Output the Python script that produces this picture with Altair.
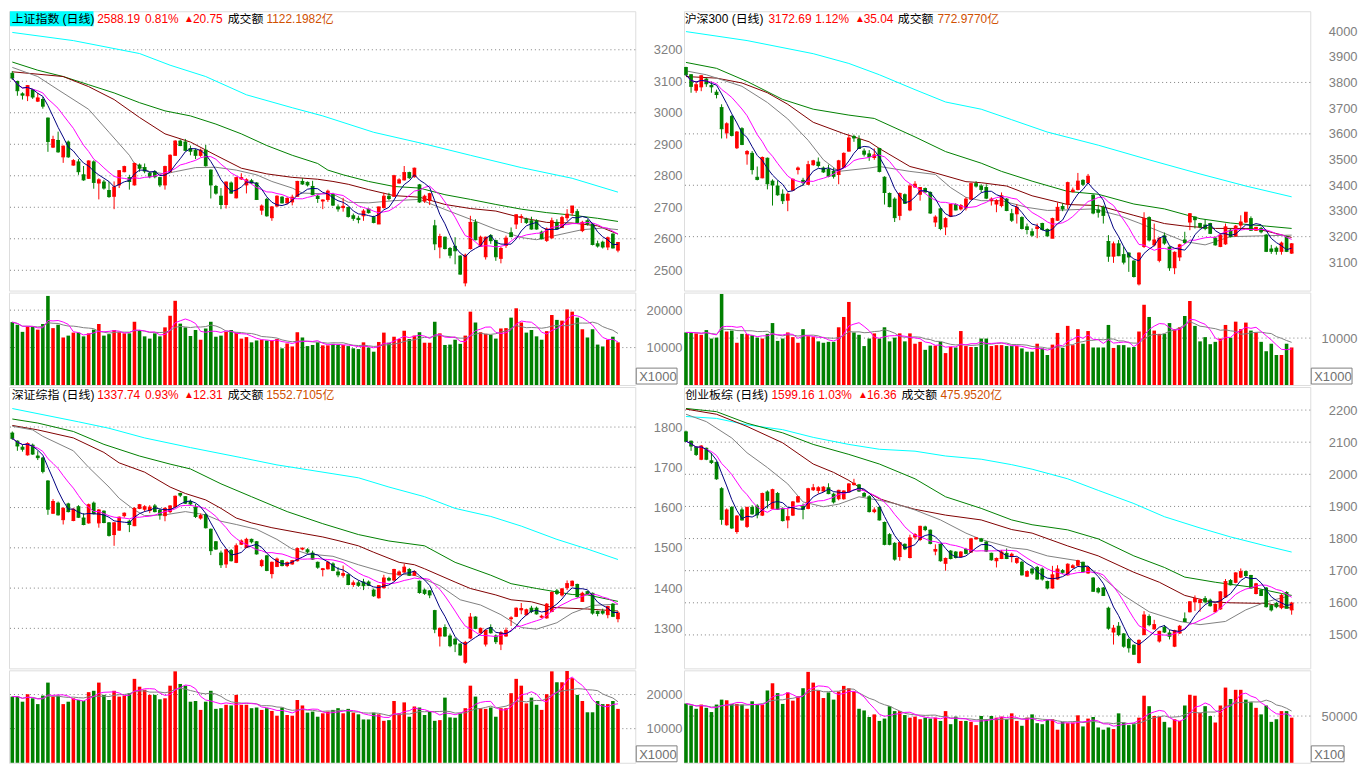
import altair as alt
import pandas as pd

# ---------------- data ----------------
# 上证指数
TL_O = [3125,3099,3060,3054,3073,3037,3042,2983,2891,2912, 2860,2907,2834,2844,2803,2792,2844,2777,2780,2753,
        2735,2771,2813,2794,2771,2834,2826,2808,2813,2794, 2771,2813,2865,2910,2907,2886,2881,2865,2881,2818,
        2766,2735,2709,2777,2730,2790,2771,2784,2777,2691, 2725,2667,2704,2732,2714,2717,2735,2782,2779,2766,
        2735,2720,2725,2740,2701,2699,2699,2673,2665,2673, 2694,2667,2647,2699,2735,2735,2777,2787,2810,2797,
        2771,2720,2722,2641,2574,2605,2569,2576,2545,2460, 2569,2652,2576,2543,2610,2594,2538,2579,2619,2647,
        2669,2662,2657,2657,2621,2595,2603,2652,2636,2667, 2683,2686,2626,2657,2647,2584,2589,2574,2615,2564]
TL_H = [3132,3102,3065,3088,3076,3063,3050,2985,2927,2940, 2896,2912,2853,2853,2831,2849,2849,2792,2787,2782,
        2782,2818,2832,2803,2842,2839,2839,2813,2818,2797, 2832,2868,2913,2915,2917,2896,2886,2886,2898,2820,
        2771,2761,2782,2782,2797,2808,2792,2790,2780,2709, 2730,2704,2738,2735,2732,2740,2784,2792,2782,2784,
        2740,2725,2756,2746,2709,2730,2702,2680,2673,2694, 2696,2673,2702,2746,2746,2803,2792,2831,2813,2826,
        2774,2740,2746,2660,2616,2607,2574,2605,2548,2553, 2673,2662,2610,2607,2615,2597,2574,2610,2636,2678,
        2678,2667,2670,2662,2626,2636,2667,2662,2673,2694, 2704,2694,2657,2662,2649,2594,2594,2607,2617,2590]
TL_L = [3104,3054,3042,3037,3044,3034,3013,2876,2888,2873, 2841,2857,2832,2803,2784,2790,2759,2725,2756,2730,
        2694,2761,2811,2756,2769,2813,2808,2792,2792,2764, 2756,2811,2864,2894,2878,2865,2853,2860,2829,2728,
        2740,2694,2696,2743,2728,2787,2744,2774,2723,2676, 2670,2657,2701,2712,2709,2706,2733,2771,2766,2738,
        2714,2694,2717,2704,2686,2686,2667,2657,2649,2657, 2680,2649,2647,2696,2722,2733,2775,2785,2790,2794,
        2714,2714,2707,2564,2538,2566,2538,2519,2486,2449, 2566,2595,2574,2534,2584,2530,2522,2571,2605,2631,
        2650,2647,2629,2629,2598,2590,2600,2628,2634,2657, 2673,2649,2621,2642,2579,2572,2569,2564,2569,2557]
TL_C = [3110,3070,3056,3086,3050,3047,3021,2909,2915,2876, 2894,2860,2848,2813,2787,2847,2779,2787,2761,2734,
        2764,2816,2829,2782,2839,2824,2815,2797,2797,2771, 2829,2865,2910,2896,2881,2878,2865,2881,2832,2771,
        2745,2709,2780,2745,2794,2794,2787,2777,2725,2704, 2673,2701,2735,2714,2728,2732,2782,2774,2771,2740,
        2728,2723,2751,2707,2695,2703,2671,2665,2661,2688, 2683,2652,2701,2735,2728,2800,2787,2810,2794,2824,
        2717,2735,2743,2584,2607,2569,2548,2562,2488,2548, 2652,2597,2605,2605,2594,2543,2569,2602,2607,2676,
        2670,2652,2631,2631,2600,2631,2657,2631,2667,2678, 2704,2652,2652,2647,2582,2577,2574,2603,2571,2588]
TL_V = [16800,16100,14200,15700,15500,14800,16300,23800,15200,16100, 12700,13200,14000,14000,13000,13800,14800,16300,13200,13600,
        14700,14100,13800,13800,16900,14700,13000,12400,13800,13000, 15400,18500,22500,16400,15400,13100,14700,12100,15100,16900,
        12900,13200,14200,14700,14000,12400,12800,11400,11900,12100, 11900,11900,12300,9800,11100,10300,14100,12700,10400,10700,
        11400,10600,10600,11000,10700,10700,10400,9800,9600,11400, 10000,8900,11500,14000,11300,12900,12300,14500,12300,13200,
        14100,11300,11300,16900,13800,10700,10800,12100,11000,13200, 19600,16700,14100,13700,13400,12400,15100,15200,18000,20500,
        16700,14000,14700,13000,12100,14400,18700,17400,17200,20200, 19600,18000,14900,12700,14900,10800,10300,12100,12900,11400]
TL_MA20_I = [0,5,9,15,19,23,24,27,30,32,36,40,44,48,51,55,57,63,66,70,75,80,85,90,95,100,103,108,112,116,119]
TL_MA20_V = [3144,3115,3073,3011,2938,2865,2839,2813,2806,2813,2826,2827,2818,2803,2782,2761,2745,2742,2716,2714,2721,2725,2693,2662,2630,2604,2597,2615,2629,2634,2629]
TL_MA30_I = [0,10,15,20,25,30,35,40,45,50,55,60,63,66,70,75,80,85,90,95,100,105,110,115,119]
TL_MA30_V = [3130,3115,3083,3042,2985,2933,2907,2865,2824,2806,2795,2789,2782,2773,2756,2737,2732,2709,2696,2688,2667,2652,2650,2641,2615]
TL_MA60_I = [0,5,10,15,20,25,30,35,40,45,50,55,60,62,65,70,75,80,85,90,95,100,105,110,115,119]
TL_MA60_V = [3161,3135,3115,3089,3063,3032,3006,2990,2964,2933,2896,2865,2839,2818,2803,2782,2766,2761,2740,2725,2709,2694,2683,2675,2665,2655]
TL_MA120_I = [0,12,25,31,38,46,55,61,71,81,90,100,110,119]
TL_MA120_V = [3255,3229,3188,3151,3115,3057,3016,2990,2938,2901,2865,2826,2792,2748]

# 沪深300
TR_O = [3858,3830,3770,3783,3813,3788,3762,3702,3604,3668, 3546,3620,3522,3524,3431,3429,3505,3416,3397,3365,
        3342,3381,3461,3419,3404,3480,3490,3467,3461,3454, 3442,3470,3533,3590,3578,3533,3522,3508,3543,3431,
        3368,3346,3283,3363,3304,3393,3365,3387,3372,3257, 3308,3238,3279,3325,3308,3312,3346,3406,3397,3391,
        3340,3327,3321,3346,3289,3289,3274,3238,3219,3232, 3251,3228,3194,3264,3317,3327,3375,3384,3419,3410,
        3361,3304,3314,3181,3124,3172,3130,3136,3105,3016, 3162,3274,3168,3108,3203,3159,3079,3121,3187,3257,
        3276,3251,3245,3251,3194,3162,3172,3225,3203,3245, 3257,3270,3225,3232,3206,3152,3155,3143,3200,3136]
TR_H = [3861,3832,3804,3828,3817,3804,3772,3715,3645,3673, 3611,3626,3537,3533,3473,3512,3508,3423,3419,3384,
        3372,3427,3473,3429,3495,3499,3508,3473,3480,3467, 3499,3528,3597,3597,3594,3543,3537,3543,3546,3435,
        3372,3353,3372,3368,3404,3416,3393,3391,3376,3283, 3314,3276,3327,3330,3327,3353,3410,3416,3404,3404,
        3353,3346,3372,3350,3308,3327,3279,3251,3232,3251, 3254,3232,3274,3333,3330,3414,3391,3448,3423,3444,
        3365,3324,3321,3206,3181,3187,3162,3139,3108,3139, 3295,3279,3251,3197,3216,3162,3143,3172,3219,3292,
        3279,3254,3268,3254,3200,3213,3251,3232,3245,3283, 3295,3279,3238,3238,3210,3168,3162,3181,3203,3175]
TR_L = [3826,3760,3760,3766,3783,3760,3738,3582,3582,3590, 3541,3556,3480,3442,3419,3427,3384,3321,3359,3327,
        3299,3378,3442,3397,3401,3476,3469,3448,3431,3426, 3404,3467,3531,3569,3541,3512,3495,3499,3450,3325,
        3314,3257,3264,3327,3299,3391,3340,3372,3289,3238, 3225,3206,3276,3302,3302,3302,3342,3391,3372,3346,
        3321,3295,3314,3299,3257,3251,3228,3209,3200,3194, 3225,3200,3194,3261,3299,3308,3372,3380,3397,3406,
        3287,3274,3251,3102,3098,3124,3092,3063,3041,3010, 3156,3181,3162,3100,3168,3067,3054,3105,3172,3225,
        3232,3232,3225,3210,3165,3159,3168,3197,3200,3232, 3253,3222,3222,3213,3140,3133,3130,3130,3140,3133]
TR_C = [3830,3785,3791,3826,3795,3783,3753,3620,3639,3594, 3607,3559,3531,3461,3423,3508,3406,3401,3363,3340,
        3365,3423,3467,3410,3480,3495,3477,3452,3435,3435, 3495,3524,3584,3584,3543,3521,3512,3518,3454,3372,
        3317,3274,3368,3330,3397,3404,3391,3374,3292,3276, 3232,3270,3325,3304,3321,3346,3406,3397,3384,3350,
        3346,3340,3359,3302,3264,3314,3232,3228,3206,3238, 3228,3203,3270,3314,3308,3410,3381,3416,3404,3435,
        3292,3295,3283,3124,3172,3126,3101,3121,3045,3136, 3270,3187,3187,3194,3175,3079,3139,3168,3177,3289,
        3266,3238,3232,3213,3168,3206,3238,3200,3241,3257, 3295,3225,3236,3219,3143,3143,3143,3175,3143,3172]
TR_V = [11200,11200,11000,10700,11700,9900,10100,19400,11400,11600, 9000,10900,10900,10600,10100,9900,10900,13200,9400,9900,
        11200,10200,9000,11900,10400,10200,9300,9000,9200,9200, 12300,14500,17700,11200,10700,8300,9900,11000,9900,12300,
        9300,10100,11000,9300,11000,8800,9200,7500,8400,8400, 9200,6800,8100,8000,11500,8300,8100,8100,9900,9900,
        8300,8500,8500,8300,8300,8300,7800,7100,7100,8800, 7800,6400,8600,11100,7900,12600,8500,11900,8800,11500,
        8000,8000,8000,12800,7900,8500,8500,8000,8100,11400, 17100,14500,11600,10900,10900,13200,11900,12300,14700,17900,
        12600,9300,10200,8700,9200,9900,12800,10100,13500,11900, 13300,11600,11200,9200,7200,8800,6400,6400,8800,8000]
TR_MA20_I = [0,4,11,16,20,24,27,30,36,38,44,49,52,55,58,62,67,71,75,80,85,89,94,98,102,107,113,119]
TR_MA20_V = [3845,3830,3785,3722,3658,3575,3499,3454,3467,3473,3454,3442,3391,3353,3340,3340,3314,3302,3304,3308,3283,3253,3213,3181,3168,3200,3203,3206]
TR_MA30_I = [0,6,11,16,20,25,31,36,38,44,49,55,58,63,68,75,81,88,94,98,104,111,114,119]
TR_MA30_V = [3823,3817,3798,3760,3715,3645,3601,3569,3543,3473,3448,3414,3410,3397,3359,3325,3321,3283,3251,3241,3232,3232,3222,3197]
TR_MA60_I = [0,6,12,19,25,32,37,45,51,58,62,68,75,81,88,94,101,107,114,119]
TR_MA60_V = [3878,3855,3804,3734,3696,3673,3660,3588,3531,3486,3454,3416,3376,3365,3327,3308,3270,3253,3241,3232]
TR_MA120_I = [0,12,25,32,38,45,51,58,64,71,81,91,101,110,119]
TR_MA120_V = [3998,3963,3912,3874,3830,3772,3724,3696,3655,3607,3556,3499,3444,3397,3355]

# 深证综指
BL_O = [1785,1765,1750,1731,1755,1728,1723,1666,1586,1611, 1570,1609,1568,1602,1574,1562,1611,1562,1591,1562,
        1533,1544,1580,1566,1555,1598,1596,1593,1604,1593, 1580,1590,1602,1635,1627,1615,1601,1574,1582,1546,
        1515,1487,1460,1493,1464,1509,1501,1521,1515,1456, 1480,1436,1454,1468,1456,1460,1468,1497,1495,1487,
        1464,1446,1448,1460,1440,1432,1433,1409,1413,1415, 1415,1395,1376,1401,1424,1420,1433,1440,1446,1432,
        1417,1395,1393,1344,1281,1302,1281,1273,1261,1216, 1276,1328,1289,1261,1302,1281,1261,1281,1324,1330,
        1346,1334,1350,1350,1328,1326,1342,1393,1383,1401, 1406,1409,1367,1391,1387,1342,1342,1334,1360,1324]
BL_H = [1789,1767,1756,1762,1759,1740,1726,1668,1621,1615, 1601,1612,1598,1606,1586,1610,1615,1596,1593,1564,
        1564,1578,1588,1570,1601,1609,1606,1606,1609,1598, 1601,1606,1630,1637,1628,1620,1609,1585,1586,1548,
        1517,1493,1497,1497,1511,1521,1525,1523,1517,1472, 1482,1466,1476,1470,1466,1470,1501,1501,1499,1493,
        1466,1450,1468,1464,1452,1456,1436,1419,1419,1423, 1419,1399,1407,1433,1428,1448,1444,1460,1450,1444,
        1419,1399,1395,1346,1302,1310,1287,1277,1263,1269, 1338,1330,1302,1297,1310,1285,1293,1302,1330,1352,
        1363,1349,1356,1354,1334,1363,1392,1398,1400,1419, 1419,1411,1391,1393,1389,1344,1349,1356,1363,1343]
BL_L = [1768,1741,1739,1729,1731,1718,1685,1582,1584,1580, 1558,1588,1566,1574,1556,1560,1583,1550,1561,1528,
        1505,1542,1575,1539,1554,1596,1590,1586,1588,1570, 1566,1586,1600,1626,1609,1605,1574,1570,1548,1482,
        1495,1450,1450,1466,1462,1507,1499,1511,1483,1452, 1442,1424,1452,1454,1452,1458,1466,1494,1486,1470,
        1448,1429,1446,1442,1427,1426,1407,1403,1403,1395, 1405,1378,1374,1399,1417,1417,1431,1438,1430,1430,
        1386,1383,1375,1288,1255,1279,1253,1241,1232,1212, 1273,1298,1287,1255,1287,1261,1246,1279,1306,1328,
        1335,1332,1338,1334,1325,1324,1340,1383,1379,1395, 1404,1376,1366,1383,1334,1330,1334,1325,1328,1315]
BL_C = [1772,1753,1745,1759,1733,1724,1690,1596,1615,1582, 1598,1590,1596,1576,1558,1607,1585,1594,1563,1531,
        1562,1576,1586,1558,1598,1607,1602,1601,1590,1582, 1598,1604,1628,1631,1611,1609,1578,1580,1550,1493,
        1497,1458,1495,1468,1505,1517,1521,1515,1485,1468, 1444,1464,1472,1456,1463,1468,1498,1499,1490,1472,
        1452,1448,1464,1444,1433,1436,1409,1413,1407,1406, 1407,1381,1406,1425,1420,1446,1440,1452,1432,1441,
        1389,1387,1383,1298,1300,1281,1257,1261,1234,1265, 1328,1300,1300,1295,1289,1267,1289,1295,1326,1350,
        1349,1346,1342,1336,1330,1360,1389,1387,1398,1411, 1417,1379,1387,1385,1338,1337,1338,1354,1330,1338]
BL_V = [19400,19400,17900,20100,18900,17200,19700,23500,19400,19700, 17200,17900,18900,18400,18100,20700,21100,23500,19900,18400,
        21100,19400,19700,20400,24600,22300,21400,19900,19900,18600, 18900,22600,26800,23100,22600,17900,18100,15500,17900,21100,
        15800,16000,17000,16800,19900,17000,17000,16000,16200,15500, 16000,15200,13800,16200,14000,13800,18400,16800,14700,15000,
        13500,14500,15000,15500,16000,14500,15800,14700,14200,12700, 12700,14700,14200,12300,12500,18100,14500,17700,13500,16500,
        16200,14000,15000,12300,12500,19100,13300,13200,14500,16000, 22600,19400,16000,15800,16200,13500,16000,16000,20400,24600,
        22600,17400,19100,17000,15500,20100,26800,23600,23600,26900, 24800,19900,18100,14800,14800,18100,17200,17200,18100,15800]
BL_MA20_I = [0,4,6,12,15,19,21,24,26,30,34,38,41,44,48,52,55,58,63,68,74,79,84,88,92,96,100,103,107,110,114,119]
BL_MA20_V = [1802,1793,1777,1741,1700,1651,1623,1594,1580,1582,1590,1582,1566,1558,1546,1521,1497,1485,1479,1458,1436,1432,1406,1371,1358,1334,1302,1298,1314,1338,1357,1360]
BL_MA30_I = [0,5,12,18,21,26,31,34,38,41,44,47,51,57,61,64,68,71,76,79,81,87,90,95,98,102,106,113,119]
BL_MA30_V = [1804,1793,1773,1737,1711,1688,1651,1635,1619,1598,1574,1562,1550,1536,1527,1518,1505,1489,1464,1458,1448,1415,1399,1383,1371,1366,1352,1348,1343]
BL_MA60_I = [0,5,12,18,25,31,35,41,47,54,61,68,74,81,87,94,98,103,110,113,119]
BL_MA60_V = [1820,1810,1789,1757,1728,1708,1696,1659,1627,1590,1560,1533,1517,1505,1464,1432,1411,1399,1384,1383,1367]
BL_MA120_I = [0,13,19,26,35,45,52,58,63,68,74,81,87,94,100,107,113,119]
BL_MA120_V = [1846,1813,1797,1773,1749,1724,1706,1694,1684,1674,1651,1627,1598,1578,1554,1521,1497,1471]

# 创业板综
BR_O = [2132,2103,2085,2047,2081,2042,2037,1955,1843,1897, 1822,1889,1838,1897,1901,1873,1945,1894,1940,1894,
        1858,1873,1914,1901,1894,1952,1950,1948,1958,1938, 1924,1924,1945,1968,1967,1940,1930,1884,1897,1850,
        1812,1785,1744,1782,1741,1805,1797,1836,1826,1761, 1782,1723,1761,1758,1744,1766,1758,1799,1799,1789,
        1754,1731,1738,1754,1744,1726,1726,1683,1705,1710, 1705,1666,1646,1674,1700,1687,1710,1717,1726,1693,
        1677,1644,1646,1583,1509,1527,1503,1486,1468,1414, 1501,1557,1519,1481,1523,1506,1465,1506,1550,1572,
        1603,1601,1613,1608,1572,1581,1618,1669,1664,1680, 1697,1685,1629,1639,1646,1591,1598,1585,1632,1578]
BR_H = [2136,2105,2088,2091,2083,2067,2040,1960,1894,1901, 1873,1897,1899,1904,1907,1943,1950,1955,1945,1897,
        1894,1917,1932,1909,1958,1970,1963,1963,1972,1943, 1952,1950,1972,1986,1970,1945,1935,1897,1901,1853,
        1817,1789,1789,1785,1812,1817,1840,1840,1828,1782, 1785,1741,1764,1761,1761,1771,1802,1805,1802,1792,
        1756,1741,1764,1769,1756,1741,1731,1700,1710,1715, 1710,1669,1715,1717,1705,1723,1720,1734,1728,1713,
        1680,1649,1649,1588,1531,1540,1506,1491,1470,1486, 1574,1564,1547,1513,1531,1516,1516,1531,1570,1605,
        1623,1613,1621,1613,1598,1636,1674,1674,1695,1707, 1700,1687,1662,1642,1649,1595,1603,1628,1636,1603]
BR_L = [2101,2073,2057,2044,2044,2032,1983,1843,1840,1830, 1815,1856,1833,1874,1863,1870,1894,1891,1889,1853,
        1832,1870,1912,1860,1891,1948,1940,1945,1938,1909, 1919,1921,1942,1965,1945,1930,1881,1879,1856,1779,
        1779,1731,1731,1764,1738,1797,1792,1823,1782,1748, 1728,1700,1735,1738,1741,1751,1756,1797,1789,1758,
        1731,1710,1736,1736,1726,1721,1685,1680,1687,1672, 1669,1642,1644,1672,1690,1685,1707,1713,1695,1690,
        1634,1629,1621,1516,1470,1496,1460,1445,1438,1411, 1499,1527,1516,1476,1506,1486,1462,1503,1540,1570,
        1575,1572,1598,1588,1570,1578,1615,1654,1661,1677, 1680,1644,1626,1621,1585,1573,1583,1580,1583,1563]
BR_C = [2103,2088,2062,2088,2047,2037,1986,1860,1889,1833, 1870,1858,1897,1877,1874,1940,1919,1952,1891,1856,
        1868,1914,1930,1891,1955,1958,1958,1960,1940,1914, 1950,1948,1970,1972,1948,1932,1884,1889,1858,1782,
        1782,1736,1787,1768,1802,1812,1838,1828,1785,1766, 1731,1738,1738,1741,1758,1754,1799,1802,1792,1761,
        1734,1738,1758,1738,1751,1738,1687,1697,1693,1674, 1674,1646,1687,1705,1695,1720,1715,1731,1697,1710,
        1636,1634,1623,1521,1521,1501,1465,1460,1440,1483, 1562,1532,1532,1511,1509,1496,1513,1527,1542,1603,
        1613,1608,1603,1591,1595,1634,1666,1656,1693,1697, 1685,1646,1659,1623,1588,1578,1588,1623,1583,1599]
BR_V = [63400,61300,57800,62300,58800,54300,62300,67600,66900,63000, 63000,62300,57800,65800,62300,62300,77400,85100,74600,63000,
        75300,66500,71100,79800,97300,85800,77400,69300,75300,67600, 76300,82300,79800,76300,57800,56000,49000,51800,44800,47300,
        60600,55300,55300,51100,48300,49400,46600,48300,47300,48300, 44800,55300,41300,49400,44800,44800,43800,40300,50100,46600,
        50100,48300,49400,46600,52900,44800,39600,48300,51800,42400, 41300,45900,46600,35400,43800,42400,43100,50800,38900,47300,
        49000,37800,35400,37800,36100,52900,43100,40300,41300,48300, 71800,60600,50100,49400,43800,37800,46600,44800,61300,72800,
        71800,53600,60600,50100,43100,61300,80500,68300,78100,78100, 67600,64800,58800,51800,61300,43800,46600,55300,55300,48300]
BR_MA20_I = [0,4,9,12,16,20,23,27,30,34,38,41,45,50,55,58,64,67,71,77,81,86,91,97,101,106,110,114,119]
BR_MA20_V = [2187,2164,2113,2067,2021,1970,1914,1899,1907,1930,1919,1909,1889,1858,1817,1797,1771,1766,1746,1731,1690,1623,1572,1542,1532,1542,1578,1603,1623]
BR_MA30_I = [0,6,12,19,25,29,32,35,38,42,45,51,58,64,68,75,81,88,93,98,103,107,114,119]
BR_MA30_V = [2203,2187,2149,2098,2032,2006,1981,1950,1924,1904,1891,1873,1858,1828,1817,1777,1746,1695,1664,1623,1603,1600,1598,1583]
BR_MA60_I = [0,6,12,19,25,32,38,45,51,58,64,68,75,81,88,94,98,104,111,117,119]
BR_MA60_V = [2205,2195,2159,2129,2093,2062,2032,1986,1930,1894,1858,1843,1827,1799,1746,1710,1680,1664,1649,1629,1623]
BR_MA120_I = [0,6,12,19,25,32,38,45,51,58,64,68,75,81,88,94,101,107,114,119]
BR_MA120_V = [2180,2174,2154,2139,2115,2093,2078,2072,2057,2047,2030,2016,1986,1950,1909,1868,1833,1805,1777,1758]

# axis labels / gridlines
TL_LABELS = [2500, 2600, 2700, 2800, 2900, 3000, 3100, 3200]
TR_LABELS = [3100, 3200, 3300, 3400, 3500, 3600, 3700, 3800, 3900, 4000]
TR_GRID = [3200, 3400, 3600, 3800]
BL_LABELS = [1300, 1400, 1500, 1600, 1700, 1800]
BR_LABELS = [1500, 1600, 1700, 1800, 1900, 2000, 2100, 2200]

# header texts
TL_HEAD = ["上证指数 (日线)", "2588.19", "0.81%", "▲", "20.75", "成交额", "1122.1982亿"]
TR_HEAD = ["沪深300 (日线)", "3172.69", "1.12%", "▲", "35.04", "成交额", "772.9770亿"]
BL_HEAD = ["深证综指 (日线)", "1337.74", "0.93%", "▲", "12.31", "成交额", "1552.7105亿"]
BR_HEAD = ["创业板综 (日线)", "1599.16", "1.03%", "▲", "16.36", "成交额", "475.9520亿"]

# ---------------- styling / layout ----------------
FONT = 'Liberation Sans, "Noto Sans CJK SC", sans-serif'
UP, DOWN = "#FF0000", "#008000"
GRIDC = "#808080"
NAVY, MAG, GRAY, DRED, GRN, CYAN = "#000080", "#FF00FF", "#808080", "#800000", "#008000", "#00FFFF"
HEAD_COLORS = ["#000000", "#FF0000", "#FF0000", "#FF0000", "#FF0000", "#000000", "#D05000"]
W = 630
HP_TOP, HV_TOP, HP_BOT, HV_BOT = 281, 93, 283, 93
XDOM_L = [-0.65, 122.4]
XDOM_R = [-0.39, 122.66]
BODY_HALF = 0.36
VOL_HALF = 0.35


def dirs(O, C):
    return ["up" if c >= o else "down" for o, c in zip(O, C)]


def header_layers(texts, xs, highlight):
    layers = []
    one = pd.DataFrame({"a": [0]})
    if highlight:
        layers.append(alt.Chart(one).mark_rect(color="#00FFFF").encode(
            x=alt.value(1), x2=alt.value(85), y=alt.value(0), y2=alt.value(15)))
    for t, x, c in zip(texts, xs, HEAD_COLORS):
        size = 10 if t == "▲" else 12
        layers.append(alt.Chart(one).mark_text(
            align="left", baseline="middle", font=FONT, fontSize=size, color=c).encode(
            x=alt.value(x), y=alt.value(8), text=alt.value(t)))
    return layers


def make_axis(labels):
    return alt.Axis(orient="right", values=labels, format="d", ticks=False, tickSize=0,
                    domain=False, grid=False, labelPadding=47, labelAlign="right",
                    labelColor="#808080", labelFont="Liberation Sans", labelFontSize=13,
                    labelOverlap=False, labelFlush=False, title=None)


def price_panel(O, H, L, C, mas, ydom, labels, grids, head, head_x, xdom, h, highlight=False):
    n = len(C)
    df = pd.DataFrame({"i": list(range(n)), "open": O, "high": H, "low": L, "close": C,
                       "dir": dirs(O, C)})
    df["xa"] = df["i"] - BODY_HALF
    df["xb"] = df["i"] + BODY_HALF
    df["ma5"] = df["close"].rolling(5, min_periods=1).mean()
    df["ma10"] = df["close"].rolling(10, min_periods=1).mean()
    xs = alt.Scale(domain=xdom, nice=False, zero=False)
    ys = alt.Scale(domain=ydom, nice=False, zero=False)
    yax = make_axis(labels)

    def X(f):
        return alt.X(f, type="quantitative", scale=xs, axis=None)

    def Y(f):
        return alt.Y(f, type="quantitative", scale=ys, axis=yax)

    col = alt.Color("dir:N", scale=alt.Scale(domain=["up", "down"], range=[UP, DOWN]), legend=None)
    base = alt.Chart(df)
    layers = [
        alt.Chart(pd.DataFrame({"g": grids})).mark_rule(color=GRIDC, strokeDash=[1, 3], strokeWidth=1)
        .encode(y=Y("g")),
    ]
    for (I, V, c) in mas:
        layers.append(alt.Chart(pd.DataFrame({"i": I, "v": V})).mark_line(color=c, strokeWidth=1)
                      .encode(x=X("i"), y=Y("v")))
    layers += [
        base.mark_rule(strokeWidth=1).encode(x=X("i"), y=Y("low"), y2="high:Q", color=col),
        base.mark_rect().encode(x=X("xa"), x2="xb:Q", y=Y("open"), y2="close:Q", color=col),
        base.mark_rule(strokeWidth=1).encode(x=X("xa"), x2="xb:Q", y=Y("close"), color=col),
        base.mark_rule(strokeWidth=1).encode(x=X("xa"), x2="xb:Q", y=Y("open"), color=col),
        base.mark_line(color=MAG, strokeWidth=1).encode(x=X("i"), y=Y("ma10")),
        base.mark_line(color=NAVY, strokeWidth=1).encode(x=X("i"), y=Y("ma5")),
    ]
    layers += header_layers(head, head_x, highlight)
    return alt.layer(*layers).properties(width=W, height=h)


def vol_panel(V, O, C, ydom, labels, grids, unit, unit_w, xdom, h):
    n = len(V)
    df = pd.DataFrame({"i": list(range(n)), "vol": V, "dir": dirs(O, C), "zero": [0] * n})
    df["xa"] = df["i"] - VOL_HALF
    df["xb"] = df["i"] + VOL_HALF
    df["m5"] = df["vol"].rolling(5, min_periods=1).mean()
    df["m10"] = df["vol"].rolling(10, min_periods=1).mean()
    xs = alt.Scale(domain=xdom, nice=False, zero=False)
    ys = alt.Scale(domain=ydom, nice=False, zero=False)
    yax = make_axis(labels)

    def X(f):
        return alt.X(f, type="quantitative", scale=xs, axis=None)

    def Y(f):
        return alt.Y(f, type="quantitative", scale=ys, axis=yax)

    col = alt.Color("dir:N", scale=alt.Scale(domain=["up", "down"], range=[UP, DOWN]), legend=None)
    base = alt.Chart(df)
    one = pd.DataFrame({"a": [0]})
    layers = [
        alt.Chart(pd.DataFrame({"g": grids})).mark_rule(color=GRIDC, strokeDash=[1, 3], strokeWidth=1)
        .encode(y=Y("g")),
        base.mark_rect().encode(x=X("xa"), x2="xb:Q", y=Y("vol"), y2="zero:Q", color=col),
        base.mark_line(color=GRAY, strokeWidth=1).encode(x=X("i"), y=Y("m10")),
        base.mark_line(color=MAG, strokeWidth=1).encode(x=X("i"), y=Y("m5")),
        alt.Chart(one).mark_rect(fill="white", stroke="#808080", strokeWidth=1).encode(
            x=alt.value(W + 1), x2=alt.value(W + 1 + unit_w), y=alt.value(h - 17), y2=alt.value(h - 1)),
        alt.Chart(one).mark_text(align="left", baseline="middle", font="Liberation Sans",
                                 fontSize=13, color="#707070").encode(
            x=alt.value(W + 4), y=alt.value(h - 8), text=alt.value(unit)),
    ]
    return alt.layer(*layers).properties(width=W, height=h)


HX_TL = [2.7, 88.7, 136.7, 176, 185, 220, 259]
HX_TR = [0.7, 85, 132, 172, 180.7, 215, 255]
HX_BL = [2.7, 88.7, 136.7, 176, 185, 220, 258.7]
HX_BR = [1.3, 88, 135, 175, 184, 218.7, 258]

tl_p = price_panel(TL_O, TL_H, TL_L, TL_C,
                   [(TL_MA120_I, TL_MA120_V, CYAN), (TL_MA60_I, TL_MA60_V, GRN),
                    (TL_MA30_I, TL_MA30_V, DRED), (TL_MA20_I, TL_MA20_V, GRAY)],
                   [2435.6, 3322.3], TL_LABELS, TL_LABELS, TL_HEAD, HX_TL, XDOM_L, HP_TOP, True)
tr_p = price_panel(TR_O, TR_H, TR_L, TR_C,
                   [(TR_MA120_I, TR_MA120_V, CYAN), (TR_MA60_I, TR_MA60_V, GRN),
                    (TR_MA30_I, TR_MA30_V, DRED), (TR_MA20_I, TR_MA20_V, GRAY)],
                   [2990.2, 4077.2], TR_LABELS, TR_GRID, TR_HEAD, HX_TR, XDOM_R, HP_TOP)
bl_p = price_panel(BL_O, BL_H, BL_L, BL_C,
                   [(BL_MA120_I, BL_MA120_V, CYAN), (BL_MA60_I, BL_MA60_V, GRN),
                    (BL_MA30_I, BL_MA30_V, DRED), (BL_MA20_I, BL_MA20_V, GRAY)],
                   [1200.7, 1899.5], BL_LABELS, BL_LABELS, BL_HEAD, HX_BL, XDOM_L, HP_BOT)
br_p = price_panel(BR_O, BR_H, BR_L, BR_C,
                   [(BR_MA120_I, BR_MA120_V, CYAN), (BR_MA60_I, BR_MA60_V, GRN),
                    (BR_MA30_I, BR_MA30_V, DRED), (BR_MA20_I, BR_MA20_V, GRAY)],
                   [1396.0, 2271.8], BR_LABELS, BR_LABELS, BR_HEAD, HX_BR, XDOM_R, HP_BOT)

tl_v = vol_panel(TL_V, TL_O, TL_C, [0, 24700], [10000, 20000], [10000, 20000], "X1000", 41, XDOM_L, HV_TOP)
tr_v = vol_panel(TR_V, TR_O, TR_C, [0, 19700], [10000], [10000], "X1000", 41, XDOM_R, HV_TOP)
bl_v = vol_panel(BL_V, BL_O, BL_C, [0, 27100], [10000, 20000], [10000, 20000], "X1000", 41, XDOM_L, HV_BOT)
br_v = vol_panel(BR_V, BR_O, BR_C, [0, 98960], [50000], [50000], "X100", 33, XDOM_R, HV_BOT)

rows = [alt.hconcat(a, b, spacing=49, bounds="flush") for a, b in
        [(tl_p, tr_p), (tl_v, tr_v), (bl_p, br_p), (bl_v, br_v)]]

chart = alt.vconcat(*rows, spacing=0, padding=0).configure_view(
    stroke="#808080", strokeWidth=1).configure(background="white")

chart.save("out.html", embed_options={"renderer": "svg", "actions": False})
